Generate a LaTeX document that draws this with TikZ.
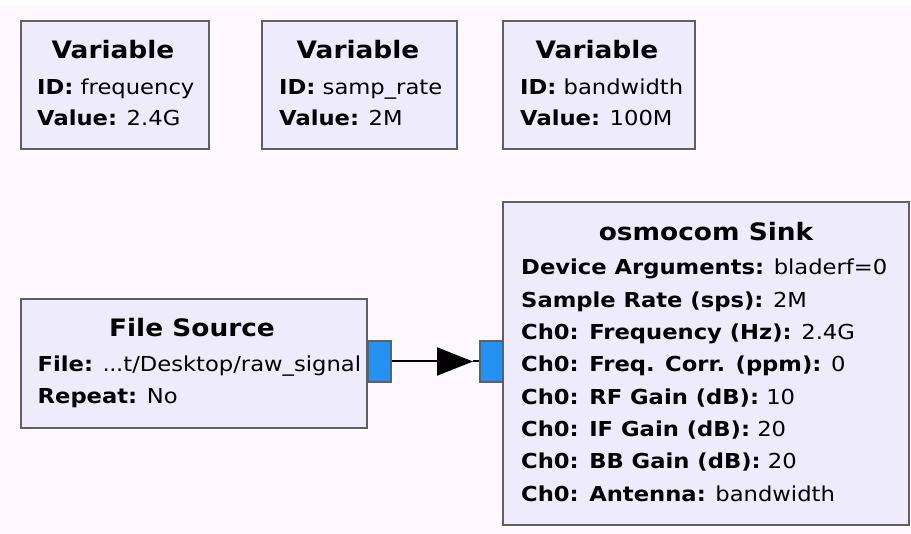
\documentclass[tikz,border=0pt]{standalone}
\usepackage{fontspec}
\setmainfont[FakeStretch=1.1]{DejaVu Sans}
\usetikzlibrary{arrows.meta}
\definecolor{bgpink}{HTML}{FFF8FF}
\definecolor{blockfill}{HTML}{EEEBFD}
\definecolor{blockborder}{HTML}{606060}
\definecolor{portblue}{HTML}{2492F0}
\tikzset{
  block/.style={draw=blockborder, fill=blockfill, line width=2pt, inner sep=0pt},
  port/.style={draw=blockborder, fill=portblue, line width=2pt, inner sep=0pt},
  ttl/.style={anchor=base, inner sep=0pt, font=\fontsize{24}{24}\selectfont\bfseries},
  prm/.style={anchor=base west, inner sep=0pt, font=\fontsize{20.6}{20.6}\selectfont},
  wire/.style={line width=2pt, black}
}
\begin{document}
\begin{tikzpicture}[x=1pt, y=-1pt]
\useasboundingbox (0,0) rectangle (911,534);
\fill[white] (0,0) rectangle (911,534);
\fill[bgpink] (0,5) rectangle (911,534);

% Variable blocks
\draw[block] (21,21) rectangle (209,149);
\node[ttl] (v1t) at (113,59) {Variable};
\node[prm] (v1a) at (37,95) {\textbf{ID:} frequency};
\node[prm] (v1b) at (37,126) {\textbf{Value:} 2.4G};

\draw[block] (262,21) rectangle (457,149);
\node[ttl] (v2t) at (358,59) {Variable};
\node[prm] (v2a) at (279,95) {\textbf{ID:} samp\_rate};
\node[prm] (v2b) at (279,126) {\textbf{Value:} 2M};

\draw[block] (503,21) rectangle (695,149);
\node[ttl] (v3t) at (597,59) {Variable};
\node[prm] (v3a) at (520,95) {\textbf{ID:} bandwidth};
\node[prm] (v3b) at (520,126) {\textbf{Value:} 100M};

% File Source
\draw[block] (21,299) rectangle (367,428);
\node[ttl] (fst) at (192,337) {File Source};
\node[prm] (fsa) at (37.5,372) {\textbf{File:} .\kern-0.5pt.\kern-0.5pt.t/Desktop/raw\_signal};
\node[prm] (fsb) at (37.5,404) {\textbf{Repeat:} No};

% osmocom Sink
\draw[block] (503,202) rectangle (909,525);
\node[ttl] (skt) at (706,240.7) {osmocom Sink};
\node[prm] (sk1) at (521,275) {\textbf{Device Arguments:} bladerf=0};
\node[prm] (sk2) at (521,307.3) {\textbf{Sample Rate (sps):} 2M};
\node[prm] (sk3) at (521,339.6) {\textbf{Ch0: Frequency (Hz):} 2.4G};
\node[prm] (sk4) at (521,371.9) {\textbf{Ch0: Freq. Corr. (ppm):} 0};
\node[prm] (sk5) at (521,404.2) {\textbf{Ch0: RF Gain (dB):} 10};
\node[prm] (sk6) at (521,436.5) {\textbf{Ch0: IF Gain (dB):} 20};
\node[prm] (sk7) at (521,468.8) {\textbf{Ch0: BB Gain (dB):} 20};
\node[prm] (sk8) at (521,501.1) {\textbf{Ch0: Antenna:} bandwidth};

% Ports
\node[port, minimum width=23pt, minimum height=41pt] (pout) at (379,361.5) {};
\node[port, minimum width=23pt, minimum height=41pt] (pin) at (491.5,361.5) {};

% Connection
\coordinate (tip) at ([xshift=-6pt]pin.west);
\draw[wire, -{Triangle[length=36pt,width=28pt]}] (pout.east) -- (tip);
\draw[wire] (tip) -- (pin.west);
\end{tikzpicture}
\end{document}
